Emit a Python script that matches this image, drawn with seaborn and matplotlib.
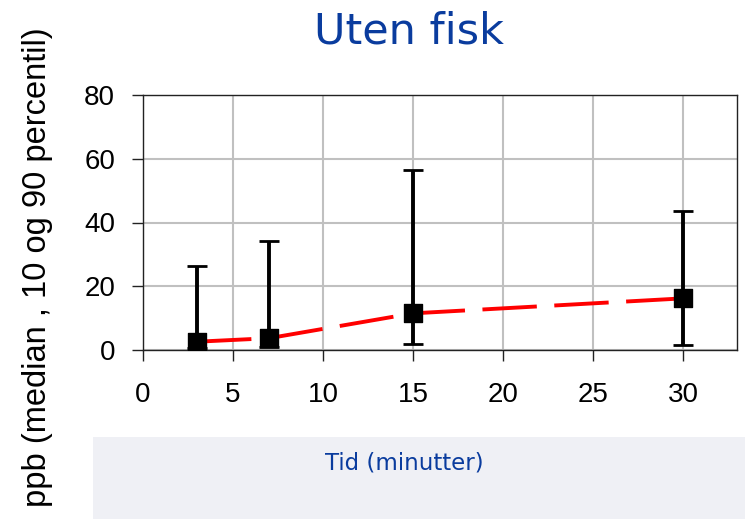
import matplotlib
matplotlib.use("Agg")
import matplotlib.pyplot as plt
import seaborn as sns
import pandas as pd
from matplotlib.patches import Rectangle

# Data
tid = [3, 7, 15, 30]
median = [2.6, 3.7, 11.5, 16.2]
p10 = [0.5, 1.0, 1.8, 1.6]
p90 = [26.3, 34.2, 56.6, 43.7]
x_ticks = [0, 5, 10, 15, 20, 25, 30]
y_ticks = [0, 20, 40, 60, 80]

title = "Uten fisk"
xlabel = "Tid (minutter)"
ylabel = "ppb (median , 10 og 90 percentil)"

df = pd.DataFrame({"tid": tid, "median": median, "p10": p10, "p90": p90})

sns.set_style("white")
plt.rcParams["font.family"] = ["Liberation Sans", "DejaVu Sans"]

fig = plt.figure(figsize=(7.45, 5.19), dpi=100)
# grey band at the bottom
fig.patches.append(Rectangle((93 / 745, 0), 1 - 93 / 745, 82 / 519,
                             transform=fig.transFigure, facecolor="#EFF0F5",
                             edgecolor="none", zorder=0))

ax = fig.add_axes([143 / 745, 1 - 350 / 519, 594 / 745, 255 / 519])
ax.set_facecolor("white")

sns.lineplot(data=df, x="tid", y="median", ax=ax, color="#FF0000",
             linewidth=2.8, linestyle=(0, (14, 4.5)), zorder=2, legend=False)
ax.errorbar(df["tid"], df["median"],
            yerr=[df["median"] - df["p10"], df["p90"] - df["median"]],
            fmt="none", ecolor="black", elinewidth=2.8, capsize=7.5,
            capthick=2.0, zorder=3)
sns.scatterplot(data=df, x="tid", y="median", ax=ax, marker="s", s=150,
                color="black", edgecolor="black", zorder=4, legend=False)

ax.set_xlim(0, 33)
ax.set_ylim(0, 80)
ax.set_xticks(x_ticks)
ax.set_yticks(y_ticks)
ax.grid(True, color="#C0C0C0", linewidth=1.5)
ax.set_axisbelow(True)
for s in ax.spines.values():
    s.set_color("#222222")
    s.set_linewidth(1.0)
    s.set_visible(True)
ax.tick_params(axis="both", direction="out", length=8, width=1,
               color="#222222", labelsize=20, labelcolor="black")
ax.tick_params(axis="x", pad=15, bottom=True)
ax.tick_params(axis="y", pad=12, left=True)
ax.set_xlabel("")
ax.set_ylabel("")

fig.text(409 / 745, 1 - 43 / 519, title, ha="center", va="baseline",
         fontsize=31, color="#0A3C9E", family=["DejaVu Sans"])
fig.text(404 / 745, 1 - 469 / 519, xlabel, ha="center", va="baseline",
         fontsize=16.5, color="#0A3C9E", family=["DejaVu Sans"])
fig.text(38 / 745, 1 - 267 / 519, ylabel, ha="center", va="center",
         rotation=90, fontsize=23.5, color="black")

fig.savefig("out.png", dpi=100)
